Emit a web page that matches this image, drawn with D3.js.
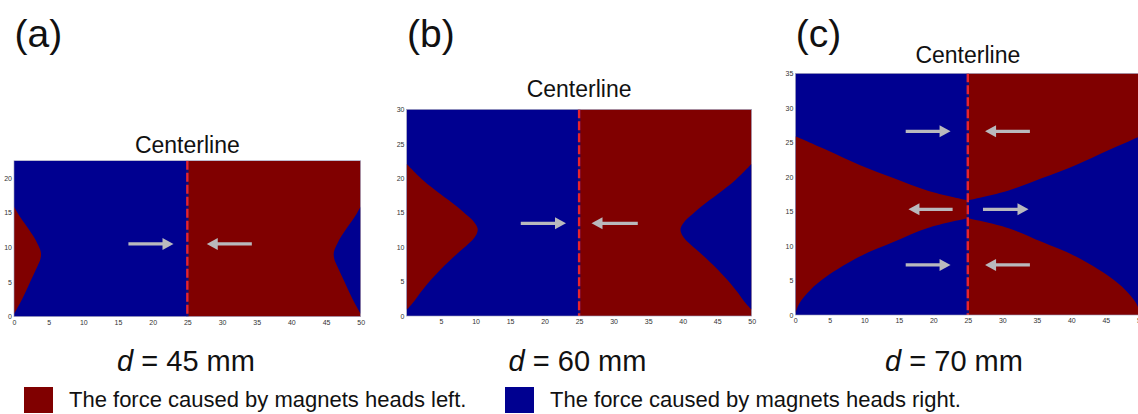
<!DOCTYPE html>
<html><head><meta charset="utf-8">
<script src="https://cdn.jsdelivr.net/npm/d3@7/dist/d3.min.js"></script>
<style>
html,body{margin:0;padding:0;background:#fff;}
svg{display:block;font-family:"Liberation Sans",Arial,sans-serif;}
</style></head>
<body>
<svg id="chart" width="1138" height="414"></svg>
<script>
// ---------------- data ----------------
const panelLabels = ["(a)", "(b)", "(c)"];
const distances = [45, 60, 70];               // d in mm
const yMaxValues = [22.5, 30, 35];            // half of d
const centerX = 25;                          // centerline position
const xDomain = [0, 50];

// boundary of the left region (x, y) for d = 45 and d = 60 (closed along x = 0)
const boundaryA = [[0,15.9],[0.5,15.0],[1.2,13.9],[2.0,12.8],[2.8,11.6],[3.4,10.5],[3.8,9.6],[3.9,9.0],[3.8,8.3],[3.4,7.3],[2.8,6.0],[2.0,4.3],[1.2,2.6],[0.5,1.3],[0,0.4]];
const boundaryB = [[0,22.1],[2.4,19.7],[4.9,17.7],[7.3,15.9],[8.9,14.5],[9.8,13.6],[10.3,12.7],[10.2,12.0],[9.7,11.2],[8.9,10.4],[7.3,9.0],[4.9,6.7],[2.4,3.9],[0.75,1.7],[0,0.9]];
// d = 70: upper and lower edges of the left region
const upperC = [[0,25.9],[4.56,23.9],[9.4,21.7],[14.3,19.8],[19.2,18.0],[25,16.6]];
const lowerC = [[0,0.2],[0.6,1.7],[2.14,3.6],[4.56,5.6],[9.4,8.5],[14.3,10.6],[19.2,12.6],[25,14.0]];

// arrows: tail -> head at height y
const arrowsA = [{y:10.5, from:16.5, to:23.0}, {y:10.5, from:34.3, to:27.8}];
const arrowsB = [{y:13.45, from:16.55, to:23.1}, {y:13.45, from:33.5, to:26.8}];
const arrowsC = [
  {y:26.6, from:16.0, to:22.5}, {y:26.6, from:34.0, to:27.5},
  {y:15.3, from:22.8, to:16.4}, {y:15.3, from:27.2, to:33.8},
  {y:7.25, from:16.0, to:22.5}, {y:7.25, from:34.0, to:27.5}
];

const xTicksA = [0,5,10,15,20,25,30,35,40,45,50];
const xTicksB = [5,10,15,20,25,30,35,40,45,50];
const xTicksC = [0,5,10,15,20,25,30,35,40,45,50];
const yTicksA = [0,5,10,15,20];
const yTicksB = [0,5,10,15,20,25,30];
const yTicksC = [0,5,10,15,20,25,30,35];

const legendLabels = ["The force caused by magnets heads left.", "The force caused by magnets heads right."];
const colorLeft = "#800000";   // force heads left
const colorRight = "#000090";  // force heads right

// ---------------- drawing ----------------
const svg = d3.select("#chart");

const panels = [
  {label: panelLabels[0], d: distances[0], ymax: yMaxValues[0], left:14, right:360.7, top:160.7, bottom:316.7,
   region: boundaryA, arrows: arrowsA, xt: xTicksA, yt: yTicksA, titleY:153, dX:186, },
  {label: panelLabels[1], d: distances[1], ymax: yMaxValues[1], left:406.5, right:751.7, top:109.3, bottom:316,
   region: boundaryB, arrows: arrowsB, xt: xTicksB, yt: yTicksB, titleY:97, dX:577.5},
  {label: panelLabels[2], d: distances[2], ymax: yMaxValues[2], left:795.3, right:1140.3, top:73.3, bottom:315,
   upper: upperC, lower: lowerC, arrows: arrowsC, xt: xTicksC, yt: yTicksC, titleY:63, dX:954}
];

panels.forEach((p, i) => {
  const x = d3.scaleLinear().domain(xDomain).range([p.left, p.right]);
  const y = d3.scaleLinear().domain([0, p.ymax]).range([p.bottom, p.top]);
  const g = svg.append("g");
  const clipId = "clip" + i;
  svg.append("clipPath").attr("id", clipId).append("rect")
    .attr("x", x(0)).attr("y", y(p.ymax)).attr("width", x(50) - x(0)).attr("height", y(0) - y(p.ymax));
  const area = g.append("g").attr("clip-path", `url(#${clipId})`);

  area.append("rect").attr("x", x(0)).attr("y", y(p.ymax)).attr("width", x(centerX) - x(0))
    .attr("height", y(0) - y(p.ymax)).attr("fill", colorRight);
  area.append("rect").attr("x", x(centerX)).attr("y", y(p.ymax)).attr("width", x(50) - x(centerX))
    .attr("height", y(0) - y(p.ymax)).attr("fill", colorLeft);

  const lineL = d3.line().x(d => x(d[0])).y(d => y(d[1])).curve(d3.curveCatmullRom.alpha(0.5));
  const lineR = d3.line().x(d => x(50 - d[0])).y(d => y(d[1])).curve(d3.curveCatmullRom.alpha(0.5));

  let pathL, pathR;
  if (p.region) {
    pathL = lineL(p.region) + "Z";
    pathR = lineR(p.region) + "Z";
  } else {
    const lowRev = p.lower.slice().reverse();
    pathL = lineL(p.upper) + "L" + lineL(lowRev).slice(1) + "Z";
    pathR = lineR(p.upper) + "L" + lineR(lowRev).slice(1) + "Z";
  }
  area.append("path").attr("d", pathL).attr("fill", colorLeft);
  area.append("path").attr("d", pathR).attr("fill", colorRight);

  // centerline
  area.append("line").attr("x1", x(centerX)).attr("x2", x(centerX)).attr("y1", y(p.ymax)).attr("y2", y(0))
    .attr("stroke", "#10107a").attr("stroke-width", 2.4);
  area.append("line").attr("x1", x(centerX)).attr("x2", x(centerX)).attr("y1", y(p.ymax)).attr("y2", y(0))
    .attr("stroke", "#e8242c").attr("stroke-width", 2.4).attr("stroke-dasharray", "9,3");

  // arrows
  p.arrows.forEach(a => {
    const x1 = x(a.from), x2 = x(a.to), yy = y(a.y);
    const dir = x2 > x1 ? 1 : -1;
    const headLen = 11, headW = 6;
    const base = x2 - dir * headLen;
    area.append("line").attr("x1", x1).attr("x2", base + dir * 1).attr("y1", yy).attr("y2", yy)
      .attr("stroke", "#b9b9bd").attr("stroke-width", 3.2);
    area.append("path").attr("d", `M${x2},${yy}L${base},${yy - headW}L${base},${yy + headW}Z`)
      .attr("fill", "#b9b9bd");
  });

  // border
  g.append("rect").attr("x", x(0)).attr("y", y(p.ymax)).attr("width", x(50) - x(0)).attr("height", y(0) - y(p.ymax))
    .attr("fill", "none").attr("stroke", "#9a9ab8").attr("stroke-width", 0.6);

  // axes
  const ax = g.append("g").attr("transform", `translate(0,${y(0)})`)
    .call(d3.axisBottom(x).tickValues(p.xt).tickSize(0).tickPadding(3).tickFormat(d3.format("d")));
  const ay = g.append("g").attr("transform", `translate(${x(0)},0)`)
    .call(d3.axisLeft(y).tickValues(p.yt).tickSize(0).tickPadding(2).tickFormat(d3.format("d")));
  [ax, ay].forEach(a => {
    a.select(".domain").remove();
    a.selectAll("text").attr("font-size", 7).attr("fill", "#333")
      .attr("font-family", "'Liberation Sans', Arial, sans-serif");
  });

  // panel label
  svg.append("text").attr("x", p.left + 0.5).attr("y", 47).attr("font-size", 39).attr("fill", "#111").text(p.label);
  // centerline title
  svg.append("text").attr("x", x(centerX)).attr("y", p.titleY).attr("text-anchor", "middle")
    .attr("font-size", 23).attr("fill", "#111").text("Centerline");
  // d label
  const t = svg.append("text").attr("x", p.dX).attr("y", 371).attr("text-anchor", "middle")
    .attr("font-size", 29).attr("fill", "#111");
  t.append("tspan").attr("font-style", "italic").text("d");
  t.append("tspan").text(` = ${p.d} mm`);
});

// legend
const legendX = [24, 505];
const legendColors = [colorLeft, colorRight];
legendLabels.forEach((lab, i) => {
  svg.append("rect").attr("x", legendX[i]).attr("y", 387).attr("width", 29).attr("height", 26)
    .attr("fill", legendColors[i]);
  svg.append("text").attr("x", legendX[i] + 45).attr("y", 407).attr("font-size", 22).attr("fill", "#111").text(lab);
});
</script>
</body></html>
